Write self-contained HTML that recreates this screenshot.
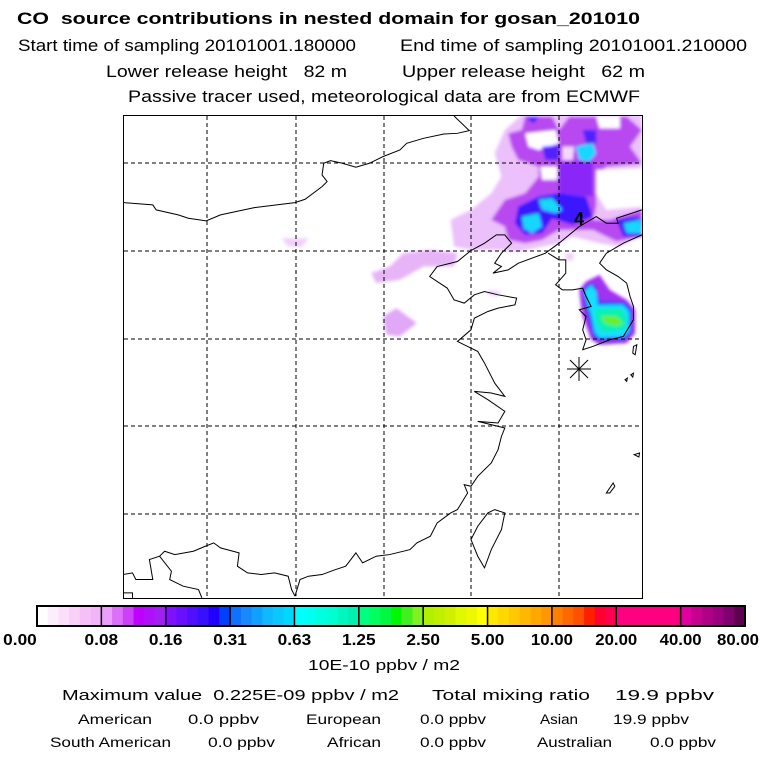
<!DOCTYPE html>
<html><head><meta charset="utf-8"><style>
html,body{margin:0;padding:0;background:#fff;}
svg{display:block;font-family:"Liberation Sans",sans-serif;}
text{white-space:pre;}
</style></head><body>
<svg width="768" height="768" viewBox="0 0 768 768">
<defs>
<filter id="bl" x="-20%" y="-20%" width="140%" height="140%"><feGaussianBlur stdDeviation="5"/></filter>
<clipPath id="mapclip"><rect x="124" y="116" width="518" height="482"/></clipPath>
</defs>
<g>
<text x="17" y="24" font-size="17" font-weight="bold" textLength="623" lengthAdjust="spacingAndGlyphs">CO  source contributions in nested domain for gosan_201010</text>
<text x="18" y="51" font-size="17" textLength="338" lengthAdjust="spacingAndGlyphs">Start time of sampling 20101001.180000</text>
<text x="400" y="51" font-size="17" textLength="347" lengthAdjust="spacingAndGlyphs">End time of sampling 20101001.210000</text>
<text x="106" y="77" font-size="17" textLength="241" lengthAdjust="spacingAndGlyphs">Lower release height   82 m</text>
<text x="402" y="77" font-size="17" textLength="243" lengthAdjust="spacingAndGlyphs">Upper release height   62 m</text>
<text x="128" y="102" font-size="17" textLength="512" lengthAdjust="spacingAndGlyphs">Passive tracer used, meteorological data are from ECMWF</text>
</g>

<g clip-path="url(#mapclip)">
<g transform="translate(123,115) scale(0.3385,0.333) translate(-12,-15)">
<g filter="url(#bl)">
<path fill="#ecc0fa" d="M1140,60 L1190,15 L1545,15 L1545,200 L1540,380 L1480,410 L1420,400 L1340,380 L1300,400 L1180,425 L1120,420 L1040,420 L990,410 L980,330 L1040,300 L1100,250 L1130,200 L1110,130 Z"/>
<path fill="#f0d0fb" d="M480,385 L560,385 L540,412 L500,410 Z"/>
<path fill="#e8b4f8" d="M745,490 L800,470 L840,430 L920,420 L1000,430 L990,470 L900,470 L830,510 L760,520 Z"/>
<path fill="#e0a8f6" d="M780,620 L820,595 L880,640 L830,680 L790,675 Z"/>
<path fill="#f0d0fb" d="M1090,540 L1130,545 L1120,560 L1090,555 Z"/>
<path fill="#f0d0fb" d="M1320,430 L1345,430 L1340,455 L1320,450 Z"/>
<path fill="#b848f0" d="M1150,70 L1190,60 L1200,20 L1280,20 L1300,60 L1330,20 L1500,20 L1545,60 L1510,110 L1545,160 L1440,170 L1410,200 L1410,290 L1400,330 L1450,330 L1545,300 L1545,380 L1470,395 L1400,360 L1300,360 L1250,390 L1200,400 L1150,390 L1140,350 L1100,330 L1140,270 L1200,250 L1240,200 L1240,170 L1180,150 L1160,110 Z"/>
<path fill="#fff" d="M1200,70 L1290,60 L1300,100 L1240,120 L1210,110 Z"/>
<path fill="#fff" d="M1245,170 L1295,170 L1295,210 L1250,210 Z"/>
<path fill="#fff" d="M1410,180 L1545,175 L1545,290 L1440,300 L1410,250 Z"/>
<path fill="#fff" d="M1410,20 L1480,20 L1480,55 L1420,55 Z"/>
<path fill="#f4d8fc" d="M1310,110 L1345,110 L1340,150 L1310,150 Z"/>
<path fill="#8a28f8" d="M1300,160 L1400,150 L1400,260 L1300,250 Z"/>
<path fill="#5020ff" d="M1250,110 L1300,105 L1300,150 L1260,150 Z"/>
<path fill="#5020ff" d="M1370,60 L1410,60 L1410,100 L1380,100 Z"/>
<path fill="#3a18ff" d="M1180,290 L1240,260 L1300,250 L1380,260 L1400,320 L1340,345 L1280,325 L1250,370 L1200,375 L1170,340 Z"/>
<path fill="#3a18ff" d="M1470,330 L1530,320 L1545,330 L1545,380 L1490,380 Z"/>
<path fill="#3a18ff" d="M1200,20 L1240,20 L1225,40 Z"/>
<path fill="#14d8ff" d="M1350,110 L1400,100 L1410,130 L1390,155 L1360,150 Z"/>
<path fill="#14d8ff" d="M1240,270 L1280,265 L1310,300 L1290,310 L1250,300 Z"/>
<path fill="#14d8ff" d="M1190,320 L1240,310 L1250,350 L1220,370 L1195,355 Z"/>
<path fill="#14d8ff" d="M1490,340 L1540,330 L1545,370 L1500,370 Z"/>
<path fill="#a030f0" d="M1360,540 L1380,515 L1420,495 L1450,540 L1500,570 L1525,600 L1525,670 L1500,700 L1420,705 L1395,690 L1370,620 L1365,590 Z"/>
<path fill="#2030ff" d="M1370,540 L1390,520 L1410,530 L1420,575 L1495,578 L1515,600 L1515,670 L1495,690 L1420,695 L1400,680 L1385,620 L1375,580 Z"/>
<path fill="#14e0ff" d="M1375,545 L1395,525 L1410,545 L1415,585 L1490,585 L1508,605 L1508,665 L1490,682 L1420,685 L1405,670 L1395,620 L1385,585 Z"/>
<path fill="#10f0b0" d="M1405,600 L1480,595 L1500,620 L1495,660 L1430,668 L1410,640 Z"/>
<path fill="#6af020" d="M1425,620 L1470,620 L1490,640 L1470,650 L1435,640 Z"/>
</g>
<g fill="none" stroke="#000" stroke-width="1">
<polyline vector-effect="non-scaling-stroke" points="12,278 100,285 110,300 175,315 205,325 258,333 300,315 400,293 520,278 550,268 600,230 615,215 600,195 605,160 625,152 660,160 700,172 740,160 780,140 830,120 850,100 900,85 960,72 1000,70 1035,62 990,18"/>
<polyline vector-effect="non-scaling-stroke" points="1040,422 1000,455 940,470 918,500 970,535 990,570 1020,580 1050,555 1080,545 1120,555 1175,565 1170,585 1120,595 1090,605 1050,625 1040,660 1000,695 1030,710 1060,725 1080,760 1110,820 1140,860 1100,850 1050,845 1090,870 1140,905 1120,940 1060,935 1140,955 1130,980 1120,1020 1100,1060 1060,1100 1040,1130 1020,1125 1030,1150 1000,1200 980,1210 940,1240 920,1280 880,1300 860,1320 800,1335 760,1340 720,1360 700,1330 670,1370 640,1380 600,1395 560,1400 535,1410 520,1460"/>
<polyline vector-effect="non-scaling-stroke" points="1040,422 1080,400 1115,375 1140,375 1160,400 1130,430 1110,460 1130,470 1105,490 1150,480 1180,460 1260,430 1300,400 1360,350 1410,320 1440,340 1475,340 1470,325 1545,300"/>
<polyline vector-effect="non-scaling-stroke" points="1268,430 1300,450 1320,450 1320,490 1290,525 1310,540 1340,540 1370,535 1380,560 1395,590 1360,600 1380,620 1370,660 1380,690 1370,720 1400,710 1450,690 1490,680 1520,630 1520,590 1510,560 1500,520 1475,500 1440,480 1420,460 1440,430 1490,400 1545,375"/>
<polyline vector-effect="non-scaling-stroke" points="12,1395 40,1390 50,1410 100,1410 90,1350 120,1340 135,1325 165,1335 220,1325 255,1310 280,1300 300,1315 355,1330 350,1370 380,1390 420,1395 460,1390 500,1400 510,1440 520,1460"/>
<polyline vector-effect="non-scaling-stroke" points="120,1340 155,1385 150,1410 190,1430 235,1440 245,1465"/>
<polyline vector-effect="non-scaling-stroke" points="12,1450 40,1450 40,1465"/>
<polygon vector-effect="non-scaling-stroke" points="1110,1200 1140,1210 1130,1260 1100,1320 1080,1375 1060,1340 1040,1290 1060,1250 1090,1210"/>
<polygon vector-effect="non-scaling-stroke" points="1440,1150 1460,1120 1465,1130 1450,1150"/>
<polygon vector-effect="non-scaling-stroke" points="1522,1035 1538,1030 1536,1042"/>
<polygon vector-effect="non-scaling-stroke" points="1520,710 1530,705 1525,735 1518,730"/>
<polygon vector-effect="non-scaling-stroke" points="1495,810 1502,805 1500,815"/>
<polygon vector-effect="non-scaling-stroke" points="1512,795 1520,790 1518,802"/>
</g>
</g>
<g stroke="#000" stroke-width="1" stroke-dasharray="4,3">
<line x1="207" y1="116" x2="207" y2="598"/><line x1="296" y1="116" x2="296" y2="598"/>
<line x1="384" y1="116" x2="384" y2="598"/><line x1="471" y1="116" x2="471" y2="598"/>
<line x1="559" y1="116" x2="559" y2="598"/>
<line x1="124" y1="163" x2="642" y2="163"/><line x1="124" y1="251" x2="642" y2="251"/>
<line x1="124" y1="339" x2="642" y2="339"/><line x1="124" y1="426" x2="642" y2="426"/>
<line x1="124" y1="514" x2="642" y2="514"/>
</g>
<text x="574" y="225" font-size="18" font-weight="bold">4</text>
<g stroke="#000" stroke-width="1">
<line x1="567" y1="369" x2="591" y2="369"/><line x1="579" y1="357" x2="579" y2="381"/>
<line x1="570" y1="360" x2="588" y2="378"/><line x1="588" y1="360" x2="570" y2="378"/>
</g>
</g>
<rect x="123.5" y="115.5" width="519" height="483" fill="none" stroke="#000"/>

<g id="cbar"></g>

<text x="384" y="670" font-size="15" text-anchor="middle" textLength="152" lengthAdjust="spacingAndGlyphs">10E-10 ppbv / m2</text>
<g font-size="15">
<text x="62" y="700" textLength="337" lengthAdjust="spacingAndGlyphs">Maximum value  0.225E-09 ppbv / m2</text>
<text x="432" y="700" textLength="158" lengthAdjust="spacingAndGlyphs">Total mixing ratio</text>
<text x="615" y="700" textLength="99" lengthAdjust="spacingAndGlyphs">19.9 ppbv</text>
</g>
<g font-size="13.5">
<text x="78" y="724" textLength="74" lengthAdjust="spacingAndGlyphs">American</text>
<text x="188" y="724" textLength="71" lengthAdjust="spacingAndGlyphs">0.0 ppbv</text>
<text x="306" y="724" textLength="75" lengthAdjust="spacingAndGlyphs">European</text>
<text x="420" y="724" textLength="66" lengthAdjust="spacingAndGlyphs">0.0 ppbv</text>
<text x="540" y="724" textLength="38" lengthAdjust="spacingAndGlyphs">Asian</text>
<text x="613" y="724" textLength="76" lengthAdjust="spacingAndGlyphs">19.9 ppbv</text>
<text x="50" y="747" textLength="121" lengthAdjust="spacingAndGlyphs">South American</text>
<text x="208" y="747" textLength="67" lengthAdjust="spacingAndGlyphs">0.0 ppbv</text>
<text x="327" y="747" textLength="54" lengthAdjust="spacingAndGlyphs">African</text>
<text x="420" y="747" textLength="66" lengthAdjust="spacingAndGlyphs">0.0 ppbv</text>
<text x="537" y="747" textLength="75" lengthAdjust="spacingAndGlyphs">Australian</text>
<text x="650" y="747" textLength="66" lengthAdjust="spacingAndGlyphs">0.0 ppbv</text>
</g>
</svg>
<script>
const tickLabels = ["0.00","0.08","0.16","0.31","0.63","1.25","2.50","5.00","10.00","20.00","40.00","80.00"];
const segmentColors = [
 ["#ffffff","#fdeefd","#fbe0fb","#f8d0f8","#f5c0f8","#f2b4f8"],
 ["#e8a0f8","#dd70f8","#cc40f8","#c000ff","#b010f8","#a020f0"],
 ["#8010ff","#6810ff","#5010ff","#3810ff","#2000ff","#0040ff"],
 ["#1070ff","#1888ff","#10a0ff","#10b8ff","#08c8ff","#00d8ff"],
 ["#00ffff","#00fff0","#00ffe0","#00ffd0","#00f8c0","#00f0b0"],
 ["#00ff80","#00ff60","#00f840","#00f800","#40f020","#80f020"],
 ["#b0f000","#c0f000","#d0f000","#e0f800","#eef800","#ffff00"],
 ["#ffe800","#ffd800","#ffc800","#ffb800","#ffa800","#ff9800"],
 ["#ff8000","#ff6800","#ff5000","#ff2000","#ff0030","#ff0050"],
 ["#ff0080","#ff0080","#ff0080","#ff0080","#ff0080","#ff0080"],
 ["#e000a0","#c80090","#b00088","#980080","#800070","#600050"]
];
const NS="http://www.w3.org/2000/svg";
const cb=document.getElementById('cbar');
const x0=37,x1=745,y0=606,h=20;
const segW=(x1-x0)/segmentColors.length;
function sx(i){return x0+i*segW;}
segmentColors.forEach((cols,i)=>{
  cols.forEach((c,j)=>{
    const r=document.createElementNS(NS,'rect');
    r.setAttribute('x',sx(i)+j*segW/cols.length);
    r.setAttribute('y',y0);
    r.setAttribute('width',segW/cols.length+0.5);
    r.setAttribute('height',h);
    r.setAttribute('fill',c);
    
    
    cb.appendChild(r);
  });
  const d=document.createElementNS(NS,'line');
  d.setAttribute('x1',sx(i));d.setAttribute('x2',sx(i));
  d.setAttribute('y1',y0);d.setAttribute('y2',y0+h);
  d.setAttribute('stroke','#000');d.setAttribute('stroke-width','1.5');
  
  
  cb.appendChild(d);
});
const fr=document.createElementNS(NS,'rect');
fr.setAttribute('x',x0);fr.setAttribute('y',y0);fr.setAttribute('width',x1-x0);fr.setAttribute('height',h);
fr.setAttribute('fill','none');fr.setAttribute('stroke','#000');fr.setAttribute('stroke-width','2');


cb.appendChild(fr);
tickLabels.forEach((t,i)=>{
  const tx=document.createElementNS(NS,'text');
  let cx=sx(i);
  if(i===0) cx=20;
  if(i===tickLabels.length-1) cx=738;
  tx.setAttribute('x',cx);tx.setAttribute('y',645);
  tx.setAttribute('text-anchor','middle');
  tx.setAttribute('font-size','16');tx.setAttribute('font-weight','bold');
  tx.setAttribute('textLength',t.length*8.4);
  tx.setAttribute('lengthAdjust','spacingAndGlyphs');
  
  
  tx.textContent=t;
  cb.appendChild(tx);
});
</script>
</body></html>
